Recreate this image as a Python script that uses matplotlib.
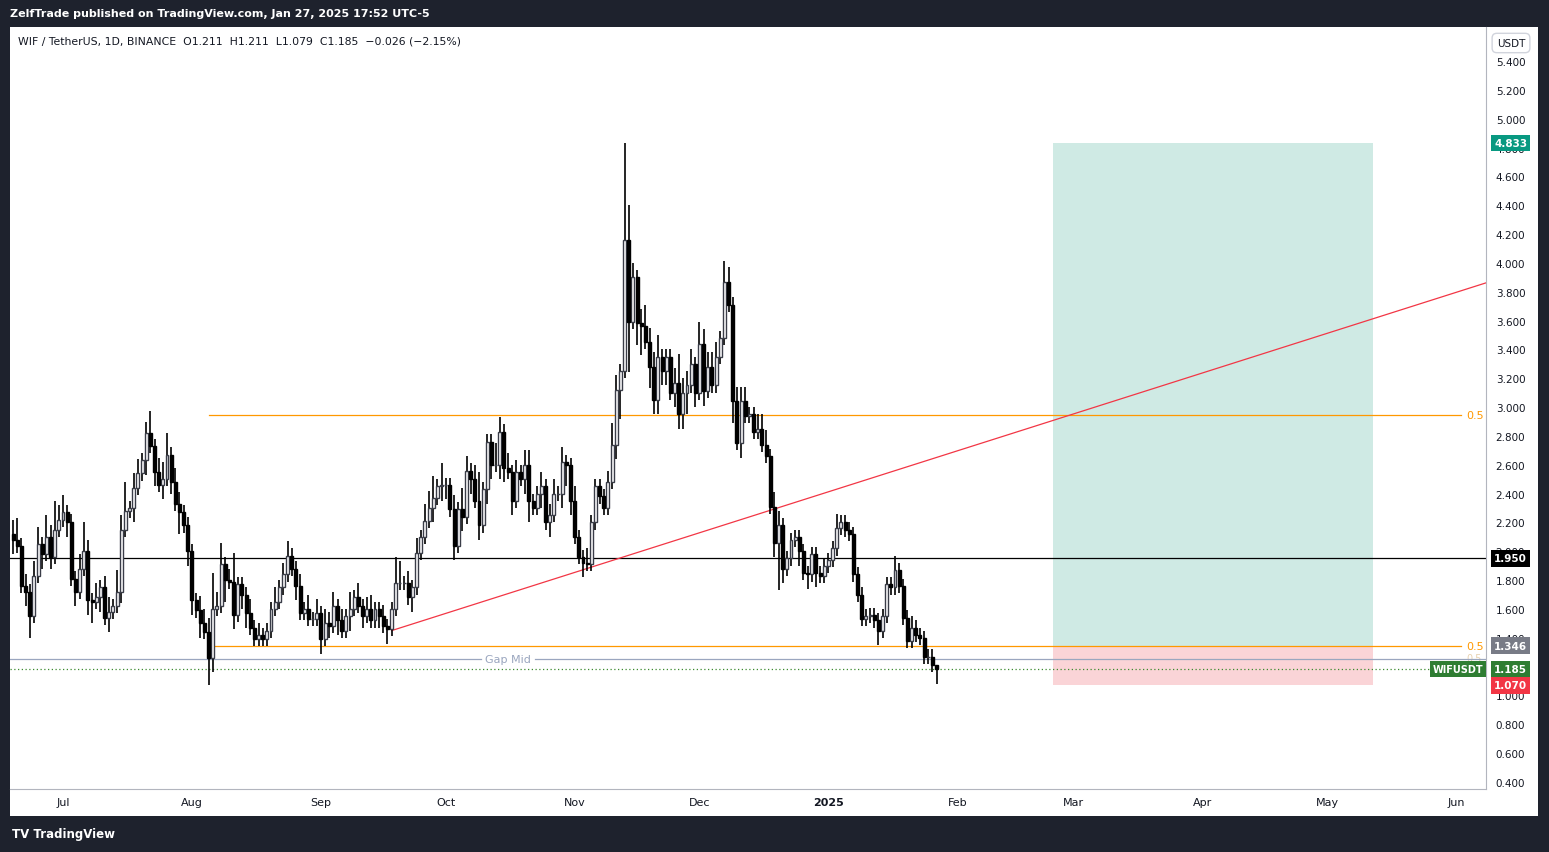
import numpy as np
import matplotlib
matplotlib.use("Agg")
import matplotlib.pyplot as plt
from matplotlib.patches import Rectangle
import matplotlib.transforms as mtransforms

# daily closes, Jun 19 2024 .. Jan 27 2025
CLOSE_JUN = [2.08, 2.04, 1.76, 1.72, 1.55, 1.83, 2.05, 1.98, 2.1, 1.96, 2.15, 2.22]
CLOSE_JUL = [2.27, 2.2, 1.81, 1.72, 1.88, 2.0, 1.66, 1.65, 1.68, 1.75, 1.54, 1.58, 1.62, 1.72, 2.15, 2.28,
             2.3, 2.44, 2.54, 2.63, 2.82, 2.73, 2.55, 2.46, 2.5, 2.67, 2.48, 2.33, 2.27, 2.18, 2.0]
CLOSE_AUG = [1.66, 1.59, 1.5, 1.44, 1.26, 1.6, 1.62, 1.91, 1.8, 1.79, 1.56, 1.77, 1.7, 1.57, 1.47, 1.39,
             1.42, 1.39, 1.45, 1.6, 1.65, 1.75, 1.84, 1.97, 1.88, 1.76, 1.57, 1.6, 1.53, 1.53, 1.57]
CLOSE_SEP = [1.39, 1.5, 1.48, 1.62, 1.52, 1.45, 1.55, 1.6, 1.68, 1.62, 1.55, 1.6, 1.52, 1.6, 1.55, 1.48,
             1.46, 1.6, 1.78, 1.78, 1.78, 1.68, 1.75, 1.99, 2.1, 2.21, 2.3, 2.37, 2.45, 2.46]
CLOSE_OCT = [2.46, 2.29, 2.04, 2.29, 2.24, 2.56, 2.5, 2.35, 2.18, 2.43, 2.76, 2.6, 2.6, 2.83, 2.58, 2.55,
             2.35, 2.55, 2.5, 2.6, 2.35, 2.3, 2.4, 2.45, 2.2, 2.25, 2.4, 2.4, 2.62, 2.6, 2.35]
CLOSE_NOV = [2.1, 1.96, 1.92, 1.91, 2.2, 2.45, 2.38, 2.3, 2.48, 2.74, 3.12, 3.25, 4.16, 3.59, 3.9, 3.58,
             3.56, 3.45, 3.28, 3.05, 3.35, 3.25, 3.35, 3.1, 3.17, 2.95, 3.1, 3.15, 3.3, 3.1]
CLOSE_DEC = [3.44, 3.11, 3.28, 3.15, 3.35, 3.48, 3.87, 3.71, 3.04, 2.75, 3.04, 2.94, 2.95, 2.83, 2.85, 2.74,
             2.66, 2.31, 2.06, 2.18, 1.88, 1.95, 2.08, 2.1, 2.0, 1.85, 1.84, 1.98, 1.85, 1.83, 1.9]
CLOSE_JAN = [1.94, 2.02, 2.16, 2.2, 2.15, 2.12, 1.84, 1.70, 1.53, 1.55, 1.56, 1.52, 1.45, 1.55, 1.77, 1.75,
             1.87, 1.76, 1.54, 1.38, 1.47, 1.42, 1.40, 1.27, 1.27, 1.211, 1.185]

UP_WICK = [.1, .15, .05, .08, .05, .1, .12, .05, .15, .08, .2, .1,
           .12, .05, .06, .05, .1, .2, .08, .05, .1, .05, .08, .1, .05, .15, .1, .2, .05, .1, .1, .05, .08, .15,
           .05, .1, .12, .15, .05, .1, .08, .05, .06,
           .05, .05, .1, .1, .1, .25, .1, .15, .05, .08, .2, .05, .05, .05, .1, .05, .08, .05, .05, .05, .1, .05,
           .08, .1, .05, .05, .08, .05, .1, .05, .1,
           .05, .1, .08, .1, .05, .08, .05, .12, .05, .1, .05, .08, .1, .05, .05, .08, .05, .05, .18, .15, .05,
           .08, .05, .1, .05, .12, .12, .15, .05, .15,
           .05, .05, .1, .05, .15, .1, .05, .1, .2, .05, .05, .05, .15, .1, .05, .1, .05, .08, .05, .1, .1, .05,
           .05, .1, .05, .08, .1, .05, .1, .05, .05,
           .1, .05, .05, .1, .05, .05, .05, .05, .08, .15, .1, .05, .67, .24, .1, .05, .1, .15, .1, .1, .15, .05,
           .05, .05, .1, .2, .1, .1, .1, .05,
           .15, .1, .1, .1, .1, .05, .14, .1, .05, .1, .1, .1, .05, .05, .1, .1, .1, .05, .1, .1, .05, .05, .05,
           .05, .05, .05, .05, .05, .05, .05, .05,
           .05, .05, .1, .05, .05, .05, .05, .05, .05, .05, .05, .05, .05, .05, .05, .05, .1, .05, .05, .05, .08,
           .05, .05, .05, .05, .05, 0]
DN_WICK = [.1, .05, .05, .1, .15, .05, .05, .1, .05, .08, .05, .05,
           .05, .1, .05, .1, .05, .05, .1, .15, .05, .1, .05, .1, .05, .05, .08, .05, .05, .1, .05, .05, .1, .05,
           .1, .05, .1, .05, .08, .05, .15, .05, .1,
           .1, .05, .1, .05, .19, .1, .05, .05, .15, .05, .1, .05, .1, .1, .05, .05, .05, .05, .05, .05, .05,
           .05, .05, .05, .05, .1, .05, .05, .05, .05, .05,
           .1, .05, .08, .05, .1, .05, .05, .1, .05, .05, .08, .05, .05, .05, .08, .05, .1, .05, .05, .05, .05,
           .05, .1, .05, .05, .05, .05, .1, .05, .1,
           .1, .05, .1, .05, .1, .05, .1, .05, .1, .05, .1, .1, .05, .1, .1, .05, .1, .05, .05, .1, .15, .05,
           .05, .1, .05, .1, .05, .05, .1, .15, .1,
           .05, .05, .1, .05, .05, .05, .05, .05, .05, .05, .1, .2, .05, .35, .05, .15, .2, .05, .15, .1, .1, .1,
           .1, .05, .1, .1, .1, .15, .05, .1,
           .05, .1, .05, .05, .05, .05, .05, .05, .15, .05, .1, .05, .05, .05, .05, .05, .05, .05, .1, .33, .1,
           .05, .05, .05, .1, .05, .1, .05, .1, .05, .05,
           .05, .05, .05, .05, .05, .05, .05, .05, .05, .05, .05, .05, .1, .05, .05, .05, .05, .05, .05, .05,
           .05, .05, .05, .05, .05, .05, .106]

FIRST_OPEN = 2.12
START_DATE = "2024-06-19"

PRICE_TICKS = [0.4, 0.6, 0.8, 1.0, 1.2, 1.4, 1.6, 1.8, 2.0, 2.2, 2.4, 2.6, 2.8, 3.0, 3.2, 3.4, 3.6,
               3.8, 4.0, 4.2, 4.4, 4.6, 4.8, 5.0, 5.2, 5.4]
MONTHS = ["2024-07-01", "2024-08-01", "2024-09-01", "2024-10-01", "2024-11-01", "2024-12-01",
          "2025-01-01", "2025-02-01", "2025-03-01", "2025-04-01", "2025-05-01", "2025-06-01"]
MONTH_LABELS = ["Jul", "Aug", "Sep", "Oct", "Nov", "Dec", "2025", "Feb", "Mar", "Apr", "May", "Jun"]

BLACK_LEVEL = 1.950
FIB_UPPER = 2.945
FIB_LOWER = 1.346
GAP_MID = 1.253
LAST_PRICE = 1.185
TREND_DATES = ["2024-09-18", "2025-06-09"]
TREND_PRICES = [1.45, 3.87]
POS_DATES = ["2025-02-24", "2025-05-12"]
POS_TARGET, POS_ENTRY, POS_STOP = 4.833, 1.346, 1.070

W, H = 1549, 853


def fx(px):
    return px / W


def fy(py):
    return 1 - py / H


def day(s):
    return (np.datetime64(s) - np.datetime64("2024-07-01")).astype(int)


closes = np.array(CLOSE_JUN + CLOSE_JUL + CLOSE_AUG + CLOSE_SEP + CLOSE_OCT + CLOSE_NOV + CLOSE_DEC + CLOSE_JAN)
opens = np.concatenate([[FIRST_OPEN], closes[:-1]])
highs = np.maximum(opens, closes) + np.array(UP_WICK)
lows = np.minimum(opens, closes) - np.array(DN_WICK)
t = day(START_DATE) + np.arange(len(closes))

fig = plt.figure(figsize=(W / 100, H / 100), dpi=100, facecolor="#1e222d")
bg = fig.add_axes([fx(10), fy(817), fx(1528), 789 / H], zorder=-5)
bg.set_facecolor("white")
bg.set_xticks([])
bg.set_yticks([])
for s in bg.spines.values():
    s.set_visible(False)

ax = fig.add_axes([fx(10), fy(790), fx(1476), 762 / H])
ax.patch.set_alpha(0)
ax.set_xlim(-53 / 4.16, (1486 - 63) / 4.16)
ax.set_ylim(0.4 - 7 / 144.2, 0.4 + 755 / 144.2)
for s in ax.spines.values():
    s.set_visible(False)
for k in ("right", "bottom"):
    ax.spines[k].set_visible(True)
    ax.spines[k].set_color("#b2b5be")
    ax.spines[k].set_linewidth(0.8)

# position tool
x0, x1 = day(POS_DATES[0]), day(POS_DATES[1])
ax.add_patch(Rectangle((x0, POS_ENTRY), x1 - x0, POS_TARGET - POS_ENTRY, facecolor="#cfeae4", edgecolor="none", zorder=1))
ax.add_patch(Rectangle((x0, POS_STOP), x1 - x0, POS_ENTRY - POS_STOP, facecolor="#fad4d7", edgecolor="none", zorder=1))

# levels
xl, xr = ax.get_xlim()
x_fib_end = day("2025-06-02")
ax.axhline(BLACK_LEVEL, color="black", lw=0.9, zorder=2)
ax.plot([day("2024-08-05"), x_fib_end], [FIB_UPPER] * 2, color="#ff9800", lw=0.9, zorder=2)
ax.plot([day("2024-08-06"), x_fib_end], [FIB_LOWER] * 2, color="#ff9800", lw=0.9, zorder=2)
ax.text(x_fib_end + 1.3, FIB_UPPER, "0.5", color="#ff9800", fontsize=8, va="center", ha="left", zorder=3)
ax.text(x_fib_end + 1.3, FIB_LOWER, "0.5", color="#ff9800", fontsize=8, va="center", ha="left", zorder=3)
ax.text(x_fib_end + 1.3, GAP_MID + 0.01, "0.5", color="#e8d2b0", fontsize=7, va="center", ha="left", zorder=2)
gap_x = day("2024-10-16")
ax.plot([xl, gap_x - 6.5], [GAP_MID] * 2, color="#9aa6bf", lw=0.9, zorder=2)
ax.plot([gap_x + 6.5, xr], [GAP_MID] * 2, color="#9aa6bf", lw=0.9, zorder=2)
ax.text(gap_x, GAP_MID, "Gap Mid", color="#9aa6bf", fontsize=8, ha="center", va="center", zorder=3)
ax.axhline(LAST_PRICE, color="#3d8b2f", lw=0.9, ls=(0, (1, 2)), zorder=2)
ax.plot([day(d) for d in TREND_DATES], TREND_PRICES, color="#f23645", lw=0.9, zorder=2)

# candles
up = closes >= opens
ax.vlines(t, lows, highs, color="black", lw=1.2, zorder=3)
ax.bar(t[up], (closes - opens)[up], bottom=opens[up], width=0.72, color="white", edgecolor="#3a3d48",
       linewidth=1.0, zorder=4)
ax.bar(t[~up], (opens - closes)[~up], bottom=closes[~up], width=0.72, color="black", edgecolor="black",
       linewidth=1.0, zorder=4)

# axes ticks
ax.yaxis.tick_right()
ax.set_yticks(PRICE_TICKS, labels=[f"{p:.3f}" for p in PRICE_TICKS])
ax.tick_params(axis="y", length=0, pad=7, labelsize=7.5, labelcolor="#131722")
ax.set_xticks([day(m) for m in MONTHS], labels=MONTH_LABELS)
ax.tick_params(axis="x", length=0, pad=6, labelsize=8, labelcolor="#131722")
for lab in ax.get_xticklabels():
    if lab.get_text() == "2025":
        lab.set_fontweight("bold")

# price tags
tr = mtransforms.blended_transform_factory(ax.transAxes, ax.transData)
tags = [(POS_TARGET, "4.833", "#089981"), (BLACK_LEVEL, "1.950", "black"),
        (FIB_LOWER, "1.346", "#787b86"), (LAST_PRICE, "1.185", "#2e7d32"),
        (POS_STOP, "1.070", "#f23645")]
for y, s, bgc in tags:
    ax.text(1.0055, y, s, transform=tr, fontsize=7.5, fontweight="bold", color="white", ha="left", va="center",
            bbox=dict(boxstyle="square,pad=0.3", facecolor=bgc, edgecolor="none"), zorder=10, clip_on=False)
ax.text(0.9982, LAST_PRICE, "WIFUSDT", transform=tr, fontsize=7, fontweight="bold", color="white",
        ha="right", va="center", bbox=dict(boxstyle="square,pad=0.3", facecolor="#2e7d32", edgecolor="none"),
        zorder=10, clip_on=False)

# texts
fig.text(fx(1511), fy(44), "USDT", fontsize=7.5, color="#131722", ha="center", va="center", zorder=20,
         bbox=dict(boxstyle="round,pad=0.45", facecolor="white", edgecolor="#d1d4dc"))
fig.text(fx(18), fy(41), "WIF / TetherUS, 1D, BINANCE  O1.211  H1.211  L1.079  C1.185  \u22120.026 (\u22122.15%)",
         fontsize=7.8, color="#131722", ha="left", va="center")
fig.text(fx(10), fy(14), "ZelfTrade published on TradingView.com, Jan 27, 2025 17:52 UTC-5",
         fontsize=8, color="white", fontweight="bold", ha="left", va="center")
fig.text(fx(12), fy(835), "TV TradingView", fontsize=8.5, color="white", fontweight="bold", ha="left", va="center")

fig.savefig("out.png", dpi=100, facecolor=fig.get_facecolor())
